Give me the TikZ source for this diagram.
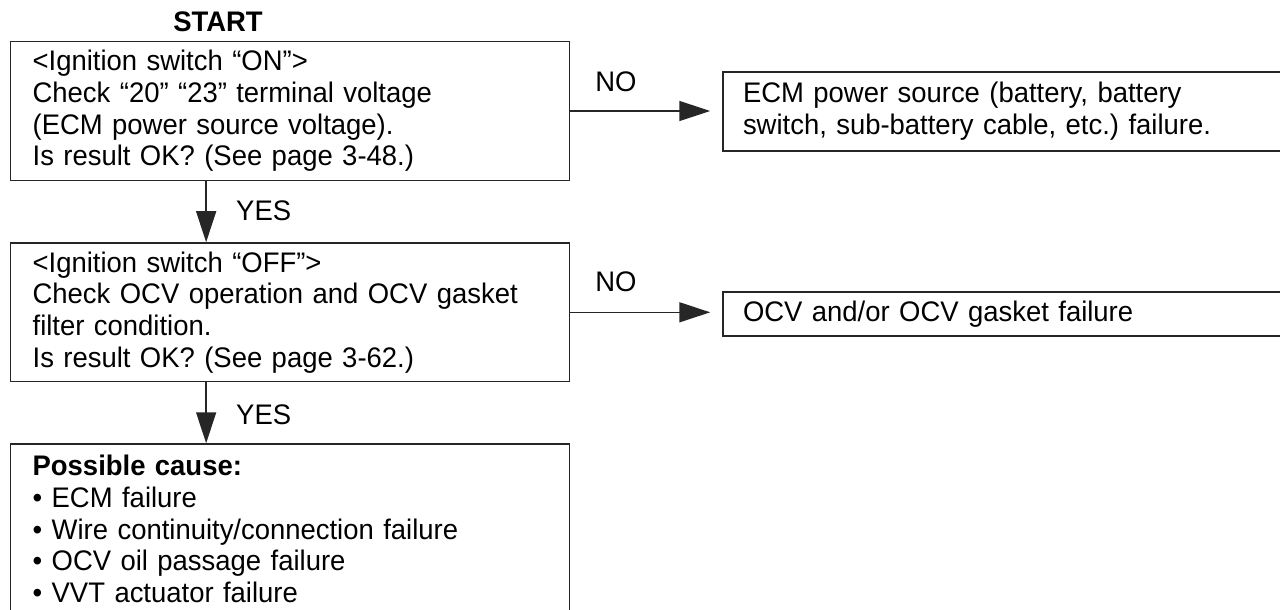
\documentclass[tikz,border=0pt]{standalone}
\usepackage{fontspec}
\setmainfont[FakeStretch=0.97]{Liberation Sans}
\usetikzlibrary{arrows.meta}
\frenchspacing
\begin{document}
\begin{tikzpicture}[x=1pt,y=-1pt,
  txt/.style={font=\fontsize{28.3}{31.7}\selectfont\frenchspacing},
  box/.style={txt, draw=black!85, line width=1.5pt, align=left, inner xsep=0pt, inner ysep=0pt},
  arr/.style={draw=black!85, line width=1.5pt, -{Triangle[length=31pt,width=20pt]}},
  lab/.style={txt, inner sep=0pt}]
\useasboundingbox (0,0) rectangle (1280,610);
\node[lab, font=\fontsize{28.3}{31.7}\selectfont\bfseries] (start) at (218,22) {START};
\node[box, minimum width=559pt, minimum height=138.6pt, text width=515pt] (b1) at (290.15,111)
  {<Ignition switch “ON”>\\Check “20” “23” terminal voltage\\(ECM power source voltage).\\Is result OK? (See page 3-48.)};
\node[box, minimum width=559pt, minimum height=138.7pt, text width=515pt] (b2) at (290.15,312.3)
  {<Ignition switch “OFF”>\\Check OCV operation and OCV gasket\\filter condition.\\Is result OK? (See page 3-62.)};
\node[box, minimum width=559pt, minimum height=170pt, text width=515pt] (b3) at (290.15,529)
  {\textbf{Possible cause:}\\• ECM failure\\• Wire continuity/connection failure\\• OCV oil passage failure\\• VVT actuator failure};
\node[box, minimum width=597pt, minimum height=79pt, text width=557pt] (r1) at (1021.5,111.5)
  {ECM power source (battery, battery\\switch, sub-battery cable, etc.)\ failure.};
\node[box, minimum width=597pt, minimum height=44pt, text width=557pt] (r2) at (1021.5,314)
  {OCV and/or OCV gasket failure};
\node[lab] (no1) at (616,82) {NO};
\node[lab] (no2) at (616,282) {NO};
\node[lab, anchor=west] (yes1) at (236,211) {YES};
\node[lab, anchor=west] (yes2) at (236,415) {YES};
\draw[arr, shorten >=12pt] (b1.east) -- (b1.east -| r1.west);
\draw[arr, shorten >=12pt] (b2.east) -- (b2.east -| r2.west);
\draw[arr] ([xshift=-84pt]b1.south) -- ([xshift=-84pt]b2.north);
\draw[arr] ([xshift=-84pt]b2.south) -- ([xshift=-84pt]b3.north);
\end{tikzpicture}
\end{document}
